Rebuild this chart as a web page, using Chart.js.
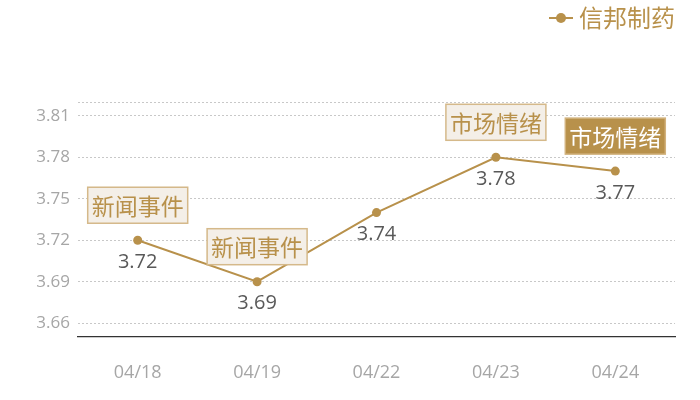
<!DOCTYPE html>
<html><head><meta charset="utf-8">
<script src="https://cdn.jsdelivr.net/npm/chart.js@4/dist/chart.umd.min.js"></script>
<style>html,body{margin:0;padding:0;background:#fff;}#wrap{width:700px;height:400px;}</style>
</head><body><div id="wrap"><canvas id="c"></canvas></div>
<script>
const categories = ['04/18','04/19','04/22','04/23','04/24'];
const seriesName = '信邦制药';
const values = [3.72, 3.69, 3.74, 3.78, 3.77];
const yTicks = [3.65, 3.66, 3.69, 3.72, 3.75, 3.78, 3.81, 3.82];
const yLabelled = [3.66, 3.69, 3.72, 3.75, 3.78, 3.81];
const noteIndex = [0, 1, 3, 4];
const noteText = ['新闻事件', '新闻事件', '市场情绪', '市场情绪'];
const noteDark = [false, false, false, true];

const GOLD = '#b8914b';
const FONT = '"Open Sans","Noto Sans CJK SC",sans-serif';
const CJK = '"Noto Sans CJK SC","Open Sans",sans-serif';

const icon = document.createElement('canvas');
icon.width = 36; icon.height = 12;
(function(){
  const g = icon.getContext('2d');
  g.strokeStyle = GOLD; g.lineWidth = 2;
  g.beginPath(); g.moveTo(12,6); g.lineTo(36,6); g.stroke();
  g.fillStyle = GOLD; g.beginPath(); g.arc(24,6,5,0,Math.PI*2); g.fill();
})();

const legendSpace = {
  id: 'legendSpace',
  beforeInit(chart) {
    const lg = chart.legend;
    if (!lg) return;
    const orig = lg.fit;
    lg.fit = function() { orig.call(this); this.height += 62; };
  },
  afterLayout(chart) {
    const lg = chart.legend;
    if (lg) { lg.left += 6; lg.right += 6; }
  }
};

const notesPlugin = {
  id: 'notes',
  afterDatasetsDraw(chart) {
    const ctx = chart.ctx;
    const xs = chart.scales.x, ys = chart.scales.y;
    ctx.save();
    ctx.font = '20px ' + FONT;
    ctx.fillStyle = '#595959';
    ctx.textAlign = 'center';
    ctx.textBaseline = 'middle';
    values.forEach((v, i) => {
      ctx.fillText(v.toFixed(2), xs.getPixelForValue(i), ys.getPixelForValue(v) + 22);
    });
    ctx.font = '23px ' + CJK;
    noteIndex.forEach((idx, k) => {
      const x = xs.getPixelForValue(idx);
      const y = ys.getPixelForValue(values[idx]);
      const w = 100, h = 36;
      const bx = x - w/2, by = y - 17 - h;
      ctx.fillStyle = noteDark[k] ? GOLD : '#f4efe8';
      ctx.fillRect(bx, by, w, h);
      ctx.strokeStyle = noteDark[k] ? '#d2b27d' : '#d5b98a';
      ctx.lineWidth = 1.5;
      ctx.strokeRect(bx, by, w, h);
      ctx.fillStyle = noteDark[k] ? '#ffffff' : GOLD;
      ctx.fillText(noteText[k], x, by + h/2 + 1);
    });
    ctx.restore();
  }
};

new Chart(document.getElementById('c'), {
  type: 'line',
  data: {
    labels: categories,
    datasets: [{
      label: seriesName,
      data: values,
      borderColor: GOLD,
      backgroundColor: GOLD,
      borderWidth: 2,
      pointRadius: 4.5,
      pointBackgroundColor: GOLD,
      pointBorderWidth: 0,
      pointStyle: 'circle',
      tension: 0
    }]
  },
  options: {
    responsive: true,
    maintainAspectRatio: false,
    animation: false,
    devicePixelRatio: 1,
    layout: { padding: { left: 0, right: 25, top: 0, bottom: 0 } },
    plugins: {
      legend: {
        position: 'top', align: 'end',
        labels: {
          usePointStyle: true,
          pointStyle: icon,
          color: GOLD,
          font: { size: 24, family: CJK },
          padding: 6
        }
      },
      tooltip: { enabled: false }
    },
    scales: {
      x: {
        offset: true,
        grid: { display: false },
        border: { display: true, color: '#333333', width: 1.3 },
        ticks: { color: '#a6a6a6', font: { size: 18, family: FONT }, padding: 17 },
        afterFit(s) { s.height = 63; }
      },
      y: {
        min: 3.65, max: 3.82,
        afterBuildTicks(s) { s.ticks = yTicks.map(v => ({ value: v })); },
        afterFit(s) { s.width = 78; },
        grid: {
          drawTicks: false,
          color(c) { return c.tick && c.tick.value === 3.65 ? 'rgba(0,0,0,0)' : '#c8c8c8'; },
          lineWidth: 1
        },
        border: { display: false, dash: [2, 2] },
        ticks: {
          color: '#a6a6a6', font: { size: 17, family: FONT }, padding: 8,
          callback(v) { return yLabelled.some(t => Math.abs(t - v) < 1e-6) ? v.toFixed(2) : ''; }
        }
      }
    }
  },
  plugins: [legendSpace, notesPlugin]
});
</script>
</body></html>
